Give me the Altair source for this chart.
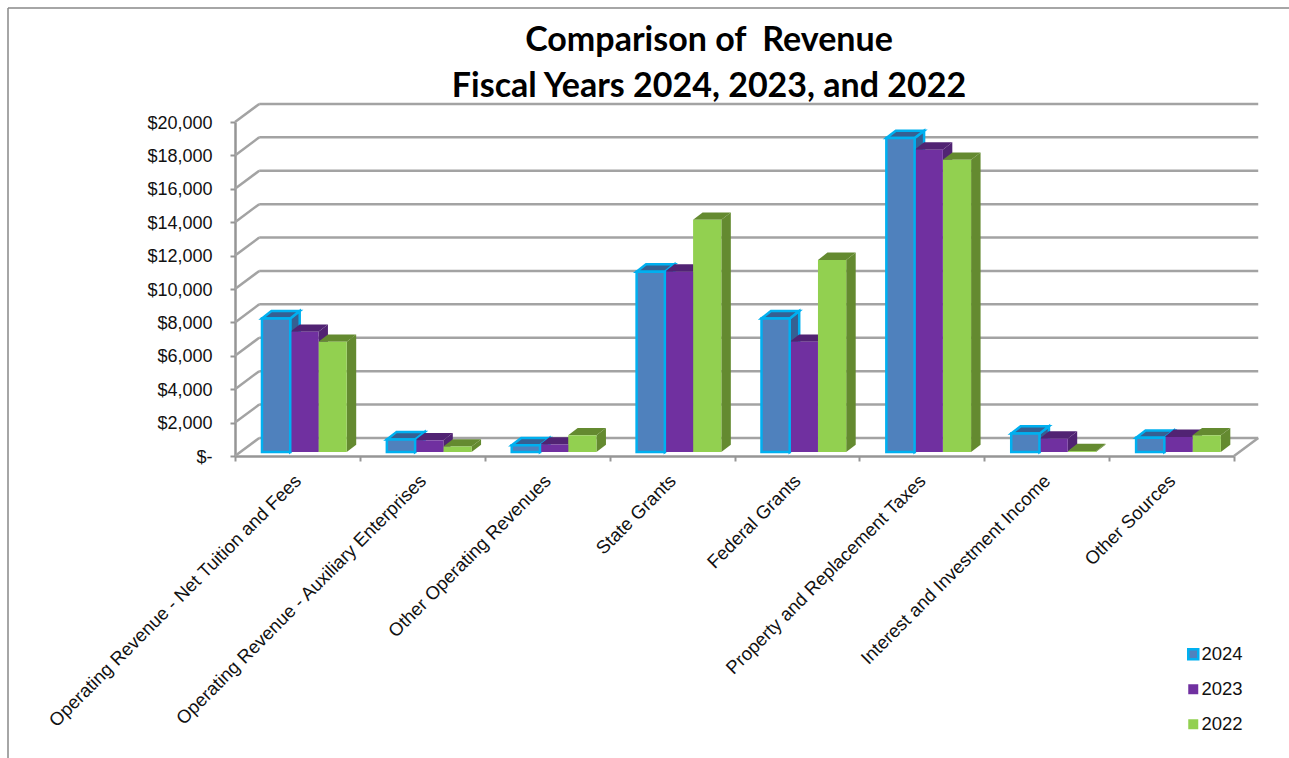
import altair as alt
import pandas as pd

title_lines = ["Comparison of\u00a0 Revenue", "Fiscal Years 2024, 2023, and 2022"]
categories = [
    "Operating Revenue - Net Tuition and Fees",
    "Operating Revenue - Auxiliary Enterprises",
    "Other Operating Revenues",
    "State Grants",
    "Federal Grants",
    "Property and Replacement Taxes",
    "Interest and Investment Income",
    "Other Sources",
]
years = ["2024", "2023", "2022"]
revenue_2024 = [8000, 750, 400, 10800, 8000, 18800, 1100, 850]
revenue_2023 = [7200, 700, 450, 10800, 6600, 18100, 800, 900]
revenue_2022 = [6600, 330, 1000, 13900, 11500, 17500, 50, 1000]
y_ticks = [0, 2000, 4000, 6000, 8000, 10000, 12000, 14000, 16000, 18000, 20000]

front_colors = ["#4f81bd", "#7030a0", "#92d050"]
shade_colors = ["#366092", "#512373", "#648a30"]
outline_colors = ["#00b0f0", "transparent", "transparent"]
GRID = "#a3a3a3"
AXIS = "#969696"

# Oblique projection, in data units: one category = 125px, 1000 dollars = 16.7px
WALL_DX, WALL_DY = 0.194, 1080   # depth of the chart floor
BAR_DX, BAR_DY = 0.076, 440      # depth of a bar
BAR_LIFT = 240                   # bars stand slightly behind the front floor edge
BAR_START, BAR_W = 0.216, 0.2262

x_scale = alt.Scale(domain=[0, 8], nice=False, zero=False)
y_scale = alt.Scale(domain=[0, 20000], nice=False, zero=False)

# Axes along the front edge of the chart, shared by every layer
axis_style = dict(
    title=None, grid=False, domain=True, domainColor=AXIS, domainWidth=2.5,
    tickColor=AXIS, tickWidth=2, tickSize=5,
)
x_axis = alt.Axis(values=list(range(9)), labels=False, **axis_style)
y_axis = alt.Axis(
    values=y_ticks, labelFont="Liberation Sans", labelFontSize=18,
    labelColor="#111111", labelPadding=18, labelOverlap=False, labelOffset=1,
    labelExpr="datum.value === 0 ? '$-' : '$' + format(datum.value, ',')",
    **axis_style,
)

def X(field="x"):
    return alt.X(f"{field}:Q", scale=x_scale, axis=x_axis)

def Y(field="y"):
    return alt.Y(f"{field}:Q", scale=y_scale, axis=y_axis)

series = dict(zip(years, [revenue_2024, revenue_2023, revenue_2022]))
bars = pd.DataFrame([
    {
        "category": cat,
        "year": year,
        "value": series[year][i],
        "x0": i + BAR_START + j * BAR_W,
        "x1": i + BAR_START + (j + 1) * BAR_W,
        "base": BAR_LIFT,
        "top": BAR_LIFT + series[year][i],
    }
    for j, year in enumerate(years)
    for i, cat in enumerate(categories)
])

# Back wall and the slanted lines joining it to the front edge
wall = pd.DataFrame({"tick": y_ticks})
wall["x"] = WALL_DX
wall["x2"] = 8 + WALL_DX
wall["y"] = wall["tick"] + WALL_DY
back_lines = alt.Chart(wall).mark_rule(color=GRID, strokeWidth=2.5).encode(
    x=X(), x2="x2:Q", y=Y()
)

slants = pd.DataFrame(
    [{"id": t, "x": 0, "y": t} for t in y_ticks]
    + [{"id": t, "x": WALL_DX, "y": t + WALL_DY} for t in y_ticks]
    + [{"id": -1, "x": 8, "y": 0}, {"id": -1, "x": 8 + WALL_DX, "y": WALL_DY}]
)
slant_lines = alt.Chart(slants).mark_line(color=GRID, strokeWidth=2.5).encode(
    x=X(), y=Y(), detail="id:N"
)

# Side and top faces, drawn year by year so each covers the previous one's side
faces = []
for j, year in enumerate(years):
    d = bars[bars.year == year]
    side = pd.concat([
        pd.DataFrame({"category": d.category, "x": d.x1, "low": d.base, "high": d.top}),
        pd.DataFrame({"category": d.category, "x": d.x1 + BAR_DX,
                      "low": d.base + BAR_DY, "high": d.top + BAR_DY}),
    ])
    top = pd.concat([
        pd.DataFrame({"category": d.category, "y": d.top, "xa": d.x0, "xb": d.x1}),
        pd.DataFrame({"category": d.category, "y": d.top + BAR_DY,
                      "xa": d.x0 + BAR_DX, "xb": d.x1 + BAR_DX}),
    ])
    style = dict(fill=shade_colors[j], stroke=outline_colors[j], strokeWidth=2.5)
    faces.append(alt.Chart(side).mark_area(**style).encode(
        x=X(), y=Y("high"), y2="low:Q", detail="category:N"))
    faces.append(alt.Chart(top).mark_area(orient="horizontal", **style).encode(
        y=Y(), x=X("xa"), x2="xb:Q", detail="category:N"))

# Front faces; the 2024 bars come last so their outline stays on top
fronts = alt.Chart(bars.iloc[::-1]).mark_rect(strokeWidth=2.5).encode(
    x=X("x0"), x2="x1:Q", y=Y("base"), y2="top:Q",
    color=alt.Color("year:N", scale=alt.Scale(domain=years, range=front_colors), legend=alt.Legend(
        orient="none", legendX=949, legendY=523, title=None, symbolType="square",
        symbolSize=100, symbolStrokeWidth=2.5, symbolOpacity=1, labelFont="Liberation Sans",
        labelFontSize=18.5, labelColor="#111111", labelOffset={"expr": "-1"}, rowPadding=14,
    )),
    stroke=alt.Stroke("year:N", scale=alt.Scale(domain=years, range=outline_colors)),
)

labels = alt.Chart(pd.DataFrame({
    "x": [i + 0.5 for i in range(len(categories))],
    "y": [0] * len(categories),
    "label": categories,
})).mark_text(
    angle=315, align="right", baseline="middle", font="Liberation Sans",
    fontSize=18.5, color="#111111", dx=-15, dy=16,
).encode(x=X(), y=Y(), text="label:N")

# Two-line heading, centred over the page rather than the plot
heading = alt.Chart(pd.DataFrame({"line": title_lines, "row": [0, 1]})).mark_text(
    font="Lato", fontSize=34, fontWeight="bold", color="#000000",
    align="center", baseline="alphabetic",
).encode(
    text="line:N",
    x=alt.value(474),
    y=alt.Y("row:Q", axis=None, title=None,
            scale=alt.Scale(domain=[0, 1], range=[-71, -25])),
)

# Thin frame along the top and left of the page
frame_top = alt.Chart(pd.DataFrame({"a": [0]})).mark_rule(color="#888888", strokeWidth=1.5).encode(
    x=alt.value(-227), x2=alt.value(1054), y=alt.value(-114))
frame_left = alt.Chart(pd.DataFrame({"a": [0]})).mark_rule(color="#888888", strokeWidth=1.5).encode(
    x=alt.value(-227), y=alt.value(-114), y2=alt.value(636))

# The plot body shares its scales; the heading sits in its own layer group
body = alt.layer(
    frame_top, frame_left, back_lines, slant_lines, *faces, fronts, labels
)
chart = alt.layer(body, heading).resolve_scale(y="independent").resolve_axis(y="independent").properties(
    width=999, height=334,
    background="white",
    autosize=alt.AutoSizeParams(type="none"),
    padding={"left": 235, "top": 122, "right": 55, "bottom": 302},
).configure_view(stroke=None)

chart.save("out.html", embed_options={"renderer": "svg", "actions": False})
